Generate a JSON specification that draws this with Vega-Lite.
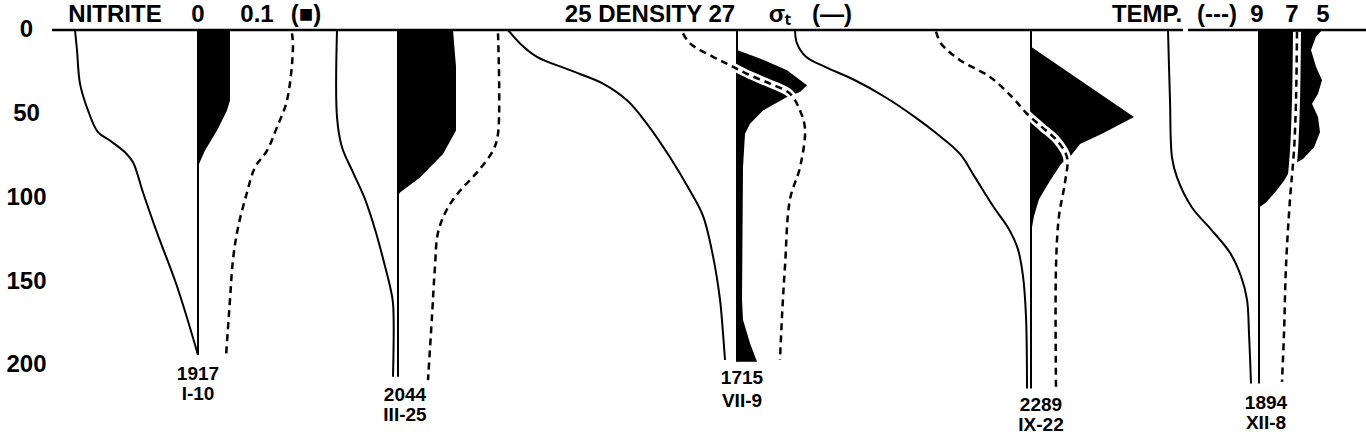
{
  "$schema": "https://vega.github.io/schema/vega-lite/v6.json",
  "width": 1366,
  "height": 440,
  "autosize": {"type": "none"},
  "padding": 0,
  "background": "white",
  "config": {"view": {"stroke": null}},
  "datasets": {
    "nitrite": [
      {"st": "1917", "depth": 0, "pos": 198, "pos2": 230},
      {"st": "1917", "depth": 42, "pos": 198, "pos2": 230},
      {"st": "1917", "depth": 48, "pos": 198, "pos2": 227},
      {"st": "1917", "depth": 60, "pos": 198, "pos2": 217},
      {"st": "1917", "depth": 72, "pos": 198, "pos2": 205},
      {"st": "1917", "depth": 80, "pos": 198, "pos2": 199},
      {"st": "1917", "depth": 82, "pos": 198, "pos2": 198},
      {"st": "2044", "depth": 0, "pos": 398, "pos2": 453},
      {"st": "2044", "depth": 22, "pos": 398, "pos2": 456},
      {"st": "2044", "depth": 60, "pos": 398, "pos2": 456},
      {"st": "2044", "depth": 74, "pos": 398, "pos2": 443},
      {"st": "2044", "depth": 88, "pos": 398, "pos2": 420},
      {"st": "2044", "depth": 97, "pos": 398, "pos2": 400},
      {"st": "2044", "depth": 99, "pos": 398, "pos2": 398},
      {"st": "1715", "depth": 12, "pos": 737, "pos2": 737},
      {"st": "1715", "depth": 17, "pos": 737, "pos2": 760},
      {"st": "1715", "depth": 24, "pos": 737, "pos2": 787},
      {"st": "1715", "depth": 33, "pos": 737, "pos2": 807},
      {"st": "1715", "depth": 37, "pos": 737, "pos2": 800},
      {"st": "1715", "depth": 40, "pos": 737, "pos2": 787},
      {"st": "1715", "depth": 48, "pos": 737, "pos2": 763},
      {"st": "1715", "depth": 56, "pos": 737, "pos2": 750},
      {"st": "1715", "depth": 62, "pos": 737, "pos2": 745},
      {"st": "1715", "depth": 82, "pos": 737, "pos2": 743},
      {"st": "1715", "depth": 161, "pos": 737, "pos2": 742},
      {"st": "1715", "depth": 173, "pos": 737, "pos2": 743},
      {"st": "1715", "depth": 187, "pos": 737, "pos2": 750},
      {"st": "1715", "depth": 198, "pos": 737, "pos2": 757},
      {"st": "2289", "depth": 10, "pos": 1031, "pos2": 1031},
      {"st": "2289", "depth": 52, "pos": 1031, "pos2": 1134},
      {"st": "2289", "depth": 62, "pos": 1031, "pos2": 1102},
      {"st": "2289", "depth": 68, "pos": 1031, "pos2": 1080},
      {"st": "2289", "depth": 75, "pos": 1031, "pos2": 1071},
      {"st": "2289", "depth": 80, "pos": 1031, "pos2": 1061},
      {"st": "2289", "depth": 90, "pos": 1031, "pos2": 1050},
      {"st": "2289", "depth": 101, "pos": 1031, "pos2": 1039},
      {"st": "2289", "depth": 111, "pos": 1031, "pos2": 1034},
      {"st": "2289", "depth": 121, "pos": 1031, "pos2": 1031},
      {"st": "1894", "depth": 0, "pos": 1259, "pos2": 1322},
      {"st": "1894", "depth": 4, "pos": 1259, "pos2": 1316},
      {"st": "1894", "depth": 12, "pos": 1259, "pos2": 1311},
      {"st": "1894", "depth": 22, "pos": 1259, "pos2": 1316},
      {"st": "1894", "depth": 30, "pos": 1259, "pos2": 1322},
      {"st": "1894", "depth": 38, "pos": 1259, "pos2": 1318},
      {"st": "1894", "depth": 44, "pos": 1259, "pos2": 1312},
      {"st": "1894", "depth": 52, "pos": 1259, "pos2": 1318},
      {"st": "1894", "depth": 61, "pos": 1259, "pos2": 1320},
      {"st": "1894", "depth": 70, "pos": 1259, "pos2": 1314},
      {"st": "1894", "depth": 77, "pos": 1259, "pos2": 1303},
      {"st": "1894", "depth": 79, "pos": 1259, "pos2": 1297},
      {"st": "1894", "depth": 82, "pos": 1259, "pos2": 1292},
      {"st": "1894", "depth": 90, "pos": 1259, "pos2": 1284},
      {"st": "1894", "depth": 97, "pos": 1259, "pos2": 1275},
      {"st": "1894", "depth": 103, "pos": 1259, "pos2": 1266},
      {"st": "1894", "depth": 106, "pos": 1259, "pos2": 1259}
    ],
    "baselines": [
      {"st": "1917", "pos": 198, "depth": 0, "depth2": 194},
      {"st": "2044", "pos": 398, "depth": 0, "depth2": 207},
      {"st": "1715", "pos": 737, "depth": 0, "depth2": 198},
      {"st": "2289", "pos": 1031, "depth": 0, "depth2": 214},
      {"st": "1894", "pos": 1259, "depth": 0, "depth2": 211}
    ],
    "profiles": [
      {"st": "1917", "kind": "density", "depth": 0, "pos": 75},
      {"st": "1917", "kind": "density", "depth": 12, "pos": 77},
      {"st": "1917", "kind": "density", "depth": 32, "pos": 80},
      {"st": "1917", "kind": "density", "depth": 48, "pos": 88},
      {"st": "1917", "kind": "density", "depth": 61, "pos": 98},
      {"st": "1917", "kind": "density", "depth": 66, "pos": 110},
      {"st": "1917", "kind": "density", "depth": 73, "pos": 125},
      {"st": "1917", "kind": "density", "depth": 79, "pos": 133},
      {"st": "1917", "kind": "density", "depth": 97, "pos": 143},
      {"st": "1917", "kind": "density", "depth": 121, "pos": 157},
      {"st": "1917", "kind": "density", "depth": 153, "pos": 177},
      {"st": "1917", "kind": "density", "depth": 194, "pos": 198},
      {"st": "1917", "kind": "temp", "depth": 2, "pos": 292},
      {"st": "1917", "kind": "temp", "depth": 10, "pos": 293},
      {"st": "1917", "kind": "temp", "depth": 42, "pos": 287},
      {"st": "1917", "kind": "temp", "depth": 58, "pos": 277},
      {"st": "1917", "kind": "temp", "depth": 72, "pos": 267},
      {"st": "1917", "kind": "temp", "depth": 82, "pos": 255},
      {"st": "1917", "kind": "temp", "depth": 97, "pos": 247},
      {"st": "1917", "kind": "temp", "depth": 118, "pos": 238},
      {"st": "1917", "kind": "temp", "depth": 137, "pos": 233},
      {"st": "1917", "kind": "temp", "depth": 161, "pos": 230},
      {"st": "1917", "kind": "temp", "depth": 195, "pos": 226},
      {"st": "2044", "kind": "density", "depth": 0, "pos": 337},
      {"st": "2044", "kind": "density", "depth": 52, "pos": 337},
      {"st": "2044", "kind": "density", "depth": 70, "pos": 342},
      {"st": "2044", "kind": "density", "depth": 85, "pos": 353},
      {"st": "2044", "kind": "density", "depth": 101, "pos": 365},
      {"st": "2044", "kind": "density", "depth": 121, "pos": 376},
      {"st": "2044", "kind": "density", "depth": 141, "pos": 385},
      {"st": "2044", "kind": "density", "depth": 153, "pos": 390},
      {"st": "2044", "kind": "density", "depth": 163, "pos": 393},
      {"st": "2044", "kind": "density", "depth": 207, "pos": 393},
      {"st": "2044", "kind": "temp", "depth": 2, "pos": 498},
      {"st": "2044", "kind": "temp", "depth": 62, "pos": 498},
      {"st": "2044", "kind": "temp", "depth": 72, "pos": 493},
      {"st": "2044", "kind": "temp", "depth": 85, "pos": 477},
      {"st": "2044", "kind": "temp", "depth": 96, "pos": 460},
      {"st": "2044", "kind": "temp", "depth": 107, "pos": 447},
      {"st": "2044", "kind": "temp", "depth": 121, "pos": 438},
      {"st": "2044", "kind": "temp", "depth": 141, "pos": 435},
      {"st": "2044", "kind": "temp", "depth": 171, "pos": 432},
      {"st": "2044", "kind": "temp", "depth": 209, "pos": 428},
      {"st": "1715", "kind": "density", "depth": 0, "pos": 508},
      {"st": "1715", "kind": "density", "depth": 8, "pos": 520},
      {"st": "1715", "kind": "density", "depth": 16, "pos": 537},
      {"st": "1715", "kind": "density", "depth": 24, "pos": 570},
      {"st": "1715", "kind": "density", "depth": 32, "pos": 603},
      {"st": "1715", "kind": "density", "depth": 42, "pos": 627},
      {"st": "1715", "kind": "density", "depth": 56, "pos": 647},
      {"st": "1715", "kind": "density", "depth": 76, "pos": 670},
      {"st": "1715", "kind": "density", "depth": 96, "pos": 690},
      {"st": "1715", "kind": "density", "depth": 111, "pos": 703},
      {"st": "1715", "kind": "density", "depth": 135, "pos": 713},
      {"st": "1715", "kind": "density", "depth": 161, "pos": 720},
      {"st": "1715", "kind": "density", "depth": 181, "pos": 723},
      {"st": "1715", "kind": "density", "depth": 197, "pos": 725},
      {"st": "1715", "kind": "temp", "depth": 2, "pos": 683},
      {"st": "1715", "kind": "temp", "depth": 8, "pos": 690},
      {"st": "1715", "kind": "temp", "depth": 16, "pos": 713},
      {"st": "1715", "kind": "temp", "depth": 21, "pos": 730},
      {"st": "1715", "kind": "temp", "depth": 27, "pos": 750},
      {"st": "1715", "kind": "temp", "depth": 32, "pos": 770},
      {"st": "1715", "kind": "temp", "depth": 38, "pos": 790},
      {"st": "1715", "kind": "temp", "depth": 48, "pos": 800},
      {"st": "1715", "kind": "temp", "depth": 59, "pos": 805},
      {"st": "1715", "kind": "temp", "depth": 82, "pos": 800},
      {"st": "1715", "kind": "temp", "depth": 101, "pos": 790},
      {"st": "1715", "kind": "temp", "depth": 141, "pos": 785},
      {"st": "1715", "kind": "temp", "depth": 171, "pos": 782},
      {"st": "1715", "kind": "temp", "depth": 197, "pos": 780},
      {"st": "2289", "kind": "density", "depth": 0, "pos": 795},
      {"st": "2289", "kind": "density", "depth": 8, "pos": 797},
      {"st": "2289", "kind": "density", "depth": 16, "pos": 806},
      {"st": "2289", "kind": "density", "depth": 22, "pos": 825},
      {"st": "2289", "kind": "density", "depth": 30, "pos": 855},
      {"st": "2289", "kind": "density", "depth": 40, "pos": 885},
      {"st": "2289", "kind": "density", "depth": 52, "pos": 915},
      {"st": "2289", "kind": "density", "depth": 62, "pos": 937},
      {"st": "2289", "kind": "density", "depth": 74, "pos": 960},
      {"st": "2289", "kind": "density", "depth": 88, "pos": 975},
      {"st": "2289", "kind": "density", "depth": 106, "pos": 994},
      {"st": "2289", "kind": "density", "depth": 119, "pos": 1009},
      {"st": "2289", "kind": "density", "depth": 131, "pos": 1018},
      {"st": "2289", "kind": "density", "depth": 147, "pos": 1023},
      {"st": "2289", "kind": "density", "depth": 171, "pos": 1026},
      {"st": "2289", "kind": "density", "depth": 214, "pos": 1027},
      {"st": "2289", "kind": "temp", "depth": 1, "pos": 936},
      {"st": "2289", "kind": "temp", "depth": 8, "pos": 941},
      {"st": "2289", "kind": "temp", "depth": 18, "pos": 960},
      {"st": "2289", "kind": "temp", "depth": 28, "pos": 990},
      {"st": "2289", "kind": "temp", "depth": 40, "pos": 1012},
      {"st": "2289", "kind": "temp", "depth": 50, "pos": 1027},
      {"st": "2289", "kind": "temp", "depth": 58, "pos": 1042},
      {"st": "2289", "kind": "temp", "depth": 66, "pos": 1057},
      {"st": "2289", "kind": "temp", "depth": 76, "pos": 1067},
      {"st": "2289", "kind": "temp", "depth": 91, "pos": 1065},
      {"st": "2289", "kind": "temp", "depth": 111, "pos": 1059},
      {"st": "2289", "kind": "temp", "depth": 141, "pos": 1056},
      {"st": "2289", "kind": "temp", "depth": 214, "pos": 1056},
      {"st": "1894", "kind": "density", "depth": 0, "pos": 1168},
      {"st": "1894", "kind": "density", "depth": 42, "pos": 1170},
      {"st": "1894", "kind": "density", "depth": 76, "pos": 1172},
      {"st": "1894", "kind": "density", "depth": 88, "pos": 1177},
      {"st": "1894", "kind": "density", "depth": 106, "pos": 1192},
      {"st": "1894", "kind": "density", "depth": 119, "pos": 1211},
      {"st": "1894", "kind": "density", "depth": 133, "pos": 1230},
      {"st": "1894", "kind": "density", "depth": 147, "pos": 1241},
      {"st": "1894", "kind": "density", "depth": 161, "pos": 1247},
      {"st": "1894", "kind": "density", "depth": 181, "pos": 1249},
      {"st": "1894", "kind": "density", "depth": 211, "pos": 1251},
      {"st": "1894", "kind": "temp", "depth": 1, "pos": 1297},
      {"st": "1894", "kind": "temp", "depth": 42, "pos": 1296},
      {"st": "1894", "kind": "temp", "depth": 72, "pos": 1294},
      {"st": "1894", "kind": "temp", "depth": 101, "pos": 1290},
      {"st": "1894", "kind": "temp", "depth": 141, "pos": 1286},
      {"st": "1894", "kind": "temp", "depth": 181, "pos": 1284},
      {"st": "1894", "kind": "temp", "depth": 210, "pos": 1282}
    ],
    "topline": [
      {"pos": 52, "pos2": 1183, "depth": 0},
      {"pos": 1188, "pos2": 1366, "depth": 0}
    ],
    "stations": [
      {"pos": 198, "depth": 205.4, "label": "1917"},
      {"pos": 198, "depth": 217.3, "label": "I-10"},
      {"pos": 405, "depth": 217.9, "label": "2044"},
      {"pos": 405, "depth": 229.9, "label": "III-25"},
      {"pos": 742, "depth": 207.8, "label": "1715"},
      {"pos": 742, "depth": 221.5, "label": "VII-9"},
      {"pos": 1041, "depth": 223.6, "label": "2289"},
      {"pos": 1041, "depth": 235.8, "label": "IX-22"},
      {"pos": 1266, "depth": 222.4, "label": "1894"},
      {"pos": 1266, "depth": 234.6, "label": "XII-8"}
    ],
    "headers": [
      {"pos": 115, "depth": -9, "label": "NITRITE"},
      {"pos": 198, "depth": -9, "label": "0"},
      {"pos": 257, "depth": -9, "label": "0.1"},
      {"pos": 306, "depth": -9, "label": "(■)"},
      {"pos": 650, "depth": -9, "label": "25 DENSITY 27"},
      {"pos": 780, "depth": -9, "label": "σₜ"},
      {"pos": 832, "depth": -9, "label": "(—)"},
      {"pos": 1147, "depth": -9, "label": "TEMP."},
      {"pos": 1217, "depth": -9, "label": "(---)"},
      {"pos": 1257, "depth": -9, "label": "9"},
      {"pos": 1292, "depth": -9, "label": "7"},
      {"pos": 1323, "depth": -9, "label": "5"}
    ]
  },
  "encoding": {
    "x": {"field": "pos", "type": "quantitative", "scale": {"domain": [0, 1366], "nice": false, "zero": false}, "axis": null},
    "y": {
      "field": "depth", "type": "quantitative",
      "scale": {"domain": [-17.91, 244.78], "nice": false, "zero": false, "reverse": true},
      "axis": {"values": [0, 50, 100, 150, 200], "title": null, "orient": "left", "offset": -26, "domain": false, "ticks": false, "tickSize": 0, "grid": false, "labelPadding": 0, "labelAlign": "center", "labelBaseline": "middle", "labelFont": "Liberation Sans", "labelFontWeight": "bold", "labelFontSize": 24, "labelColor": "black", "labelOverlap": false, "labelBound": false, "labelFlush": false}
    }
  },
  "layer": [
    {
      "data": {"name": "nitrite"},
      "mark": {"type": "area", "orient": "horizontal", "color": "black", "opacity": 1},
      "encoding": {"x2": {"field": "pos2"}, "detail": {"field": "st"}}
    },
    {
      "data": {"name": "baselines"},
      "mark": {"type": "rule", "color": "black", "strokeWidth": 2},
      "encoding": {"y2": {"field": "depth2"}}
    },
    {
      "data": {"name": "profiles"},
      "transform": [{"filter": "datum.kind === 'density'"}],
      "mark": {"type": "line", "color": "black", "strokeWidth": 2, "interpolate": "catmull-rom"},
      "encoding": {"detail": {"field": "st"}, "order": {"field": "depth", "type": "quantitative"}}
    },
    {
      "data": {"name": "profiles"},
      "transform": [{"filter": "datum.kind === 'temp'"}],
      "mark": {"type": "line", "color": "white", "strokeWidth": 8, "interpolate": "catmull-rom"},
      "encoding": {"detail": {"field": "st"}, "order": {"field": "depth", "type": "quantitative"}}
    },
    {
      "data": {"name": "profiles"},
      "transform": [{"filter": "datum.kind === 'temp'"}],
      "mark": {"type": "line", "color": "black", "strokeWidth": 2.5, "strokeDash": [7, 5], "interpolate": "catmull-rom"},
      "encoding": {"detail": {"field": "st"}, "order": {"field": "depth", "type": "quantitative"}}
    },
    {
      "data": {"name": "topline"},
      "mark": {"type": "rule", "color": "black", "strokeWidth": 2.5},
      "encoding": {"x2": {"field": "pos2"}}
    },
    {
      "data": {"name": "stations"},
      "mark": {"type": "text", "font": "Liberation Sans", "fontWeight": "bold", "fontSize": 19, "color": "black", "align": "center", "baseline": "middle"},
      "encoding": {"text": {"field": "label"}}
    },
    {
      "data": {"name": "headers"},
      "mark": {"type": "text", "font": "Liberation Sans", "fontWeight": "bold", "fontSize": 24, "color": "black", "align": "center", "baseline": "middle"},
      "encoding": {"text": {"field": "label"}}
    }
  ]
}
